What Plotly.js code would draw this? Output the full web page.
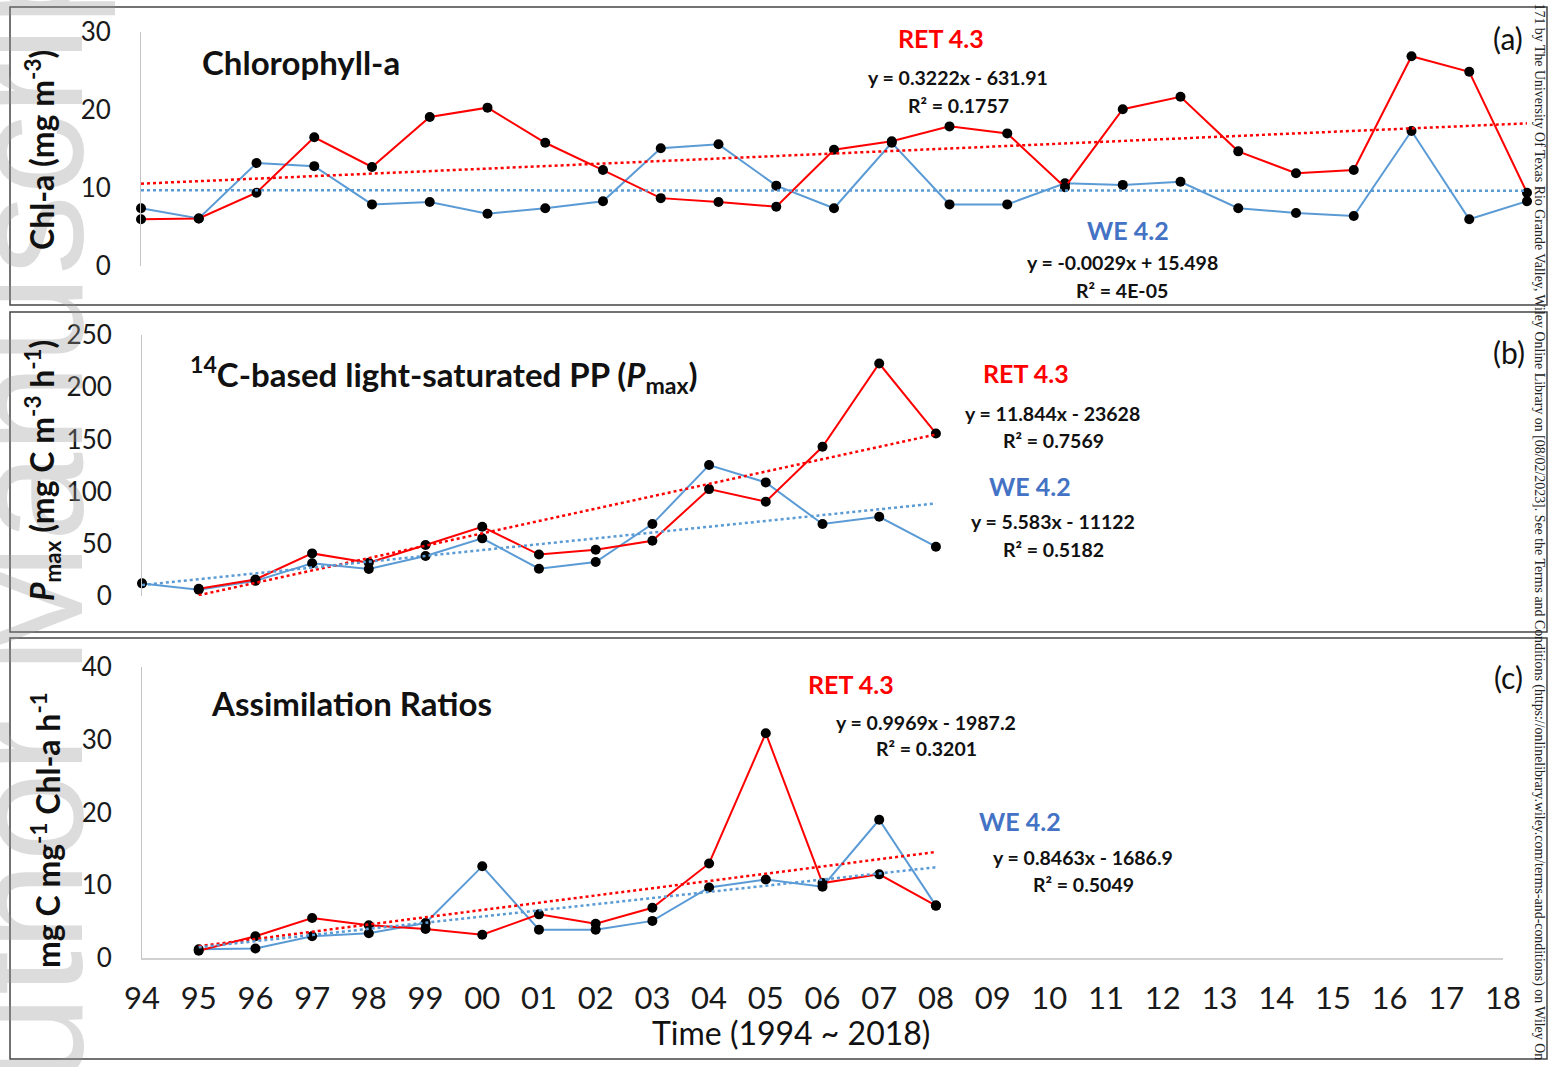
<!DOCTYPE html>
<html>
<head>
<meta charset="utf-8">
<script src="https://cdn.plot.ly/plotly-3.0.1.min.js"></script>
<style>
  html, body { margin: 0; padding: 0; background: #fff; }
  #chart { width: 1551px; height: 1067px; }
</style>
</head>
<body>
<div id="chart"></div>
<script>
const W = 1551, H = 1067;

// ---- data -------------------------------------------------------------
const yearsAll = [1994, 1995, 1996, 1997, 1998, 1999, 2000, 2001, 2002, 2003, 2004, 2005,
                  2006, 2007, 2008, 2009, 2010, 2011, 2012, 2013, 2014, 2015, 2016, 2017, 2018];
const yearTickText = ['94', '95', '96', '97', '98', '99', '00', '01', '02', '03', '04', '05',
                      '06', '07', '08', '09', '10', '11', '12', '13', '14', '15', '16', '17', '18'];

// (a) Chlorophyll-a, mg m-3
const chlRET = [6.0, 6.1, 9.4, 16.5, 12.7, 19.1, 20.3, 15.8, 12.3, 8.7, 8.2, 7.6, 14.9,
                16.0, 17.9, 17.0, 10.1, 20.1, 21.7, 14.7, 11.9, 12.3, 26.9, 24.9, 9.4];
const chlWE  = [7.4, 6.1, 13.2, 12.8, 7.9, 8.2, 6.7, 7.4, 8.3, 15.1, 15.6, 10.3, 7.4,
                15.8, 7.9, 7.9, 10.6, 10.4, 10.8, 7.4, 6.8, 6.4, 17.3, 6.0, 8.3];

// (b) 14C light-saturated PP, mg C m-3 h-1
const pmaxYearsWE  = [1994, 1995, 1996, 1997, 1998, 1999, 2000, 2001, 2002, 2003, 2004, 2005, 2006, 2007, 2008];
const pmaxWE       = [12.1, 6.0, 14.5, 31.3, 25.8, 38.3, 55.2, 26.1, 32.5, 68.9, 125.4, 108.8, 68.9, 75.9, 47.2];
const pmaxYearsRET = [1995, 1996, 1997, 1998, 1999, 2000, 2001, 2002, 2003, 2004, 2005, 2006, 2007, 2008];
const pmaxRET      = [7.0, 15.8, 40.8, 31.9, 48.8, 66.3, 39.7, 44.3, 52.9, 102.4, 90.3, 142.9, 222.7, 155.7];

// (c) Assimilation ratios, mg C mg-1 Chl-a h-1
const arYears = [1995, 1996, 1997, 1998, 1999, 2000, 2001, 2002, 2003, 2004, 2005, 2006, 2007, 2008];
const arRET   = [1.0, 3.0, 5.5, 4.5, 4.0, 3.2, 6.0, 4.7, 6.9, 13.0, 30.9, 10.3, 11.5, 7.2];
const arWE    = [1.2, 1.3, 3.0, 3.4, 4.8, 12.6, 3.9, 3.9, 5.1, 9.7, 10.8, 9.8, 19.0, 7.2];

// Linear fits reported with each panel: [slope, intercept]
const fitChlRET  = [0.3222, -631.91];
const fitChlWE   = [-0.0029, 15.498];
const fitPmaxRET = [11.844, -23628];
const fitPmaxWE  = [5.583, -11122];
const fitArRET   = [0.9969, -1987.2];
const fitArWE    = [0.8463, -1686.9];

// ---- styling ----------------------------------------------------------
const RED = '#FF0000';
const BLUE = '#5B9BD5';
const BLUE_LABEL = '#4472C4';
const FONT = 'Lato, "Open Sans", sans-serif';

const px = v => v / W;           // pixel -> paper x
const py = v => 1 - v / H;       // pixel -> paper y

function series(xs, ys, color, xa, ya) {
  return {
    type: 'scatter', mode: 'lines+markers', x: xs, y: ys, xaxis: xa, yaxis: ya,
    line: { color: color, width: 2 },
    marker: { color: '#000', size: 10 },
    cliponaxis: false, hoverinfo: 'skip'
  };
}
function trend(xs, fit, color, xa, ya) {
  const x0 = xs[0], x1 = xs[xs.length - 1];
  return {
    type: 'scatter', mode: 'lines', x: [x0, x1],
    y: [fit[0] * x0 + fit[1], fit[0] * x1 + fit[1]],
    xaxis: xa, yaxis: ya,
    line: { color: color, width: 2.5, dash: 'dot' },
    cliponaxis: false, hoverinfo: 'skip'
  };
}

const data = [
  series(yearsAll, chlWE, BLUE, 'x', 'y'),
  series(yearsAll, chlRET, RED, 'x', 'y'),
  trend(yearsAll, fitChlRET, RED, 'x', 'y'),
  trend(yearsAll, fitChlWE, BLUE, 'x', 'y'),

  series(pmaxYearsWE, pmaxWE, BLUE, 'x2', 'y2'),
  series(pmaxYearsRET, pmaxRET, RED, 'x2', 'y2'),
  trend(pmaxYearsRET, fitPmaxRET, RED, 'x2', 'y2'),
  trend(pmaxYearsWE, fitPmaxWE, BLUE, 'x2', 'y2'),

  series(arYears, arWE, BLUE, 'x3', 'y3'),
  series(arYears, arRET, RED, 'x3', 'y3'),
  trend(arYears, fitArRET, RED, 'x3', 'y3'),
  trend(arYears, fitArWE, BLUE, 'x3', 'y3')
];

function yAxis(domTopPx, domBotPx, range, dtick, anchor) {
  return {
    domain: [py(domBotPx), py(domTopPx)], range: range, anchor: anchor,
    showgrid: false, zeroline: false, showline: true, linecolor: '#c4c4c4', linewidth: 1,
    ticks: '', dtick: dtick, tick0: 0, ticklabelstandoff: 24,
    tickfont: { family: FONT, size: 26, color: '#1a1a1a' }, fixedrange: true
  };
}
function hiddenX(l, r, anchor) {
  return { domain: [px(l), px(r)], range: [1994, 2018], anchor: anchor, visible: false, fixedrange: true };
}

const annotations = [];
function note(text, x, y, opts) {
  annotations.push(Object.assign({
    text: text, xref: 'paper', yref: 'paper', x: px(x), y: py(y),
    xanchor: 'center', yanchor: 'middle', showarrow: false,
    font: { family: FONT, size: 19.5, color: '#111' }
  }, opts || {}));
}

// manuscript watermark along the left edge (drawn first, beneath the labels)
note('Author Manuscript', 26, 542,
     { textangle: -90, font: { family: '"Liberation Sans", Arial, sans-serif', size: 160, color: 'rgba(150,150,150,0.33)' } });

// panel titles
const titleFont = { family: FONT, size: 33, color: '#111' };
note('<b>Chlorophyll-a</b>', 200, 62, { xanchor: 'left', font: titleFont });
note('<b><sup>14</sup>C-based light-saturated PP (<i>P</i><sub>max</sub>)</b>', 188, 375,
     { xanchor: 'left', font: titleFont });
note('<b>Assimilation Ratios</b>', 209, 703, { xanchor: 'left', font: titleFont });

// y-axis titles
const yTitleFont = { family: FONT, size: 32, color: '#111' };
note('<b>Chl-a (mg m<sup>-3</sup>)</b>', 40, 150, { textangle: -90, font: yTitleFont });
note('<b><i>P</i><sub>max</sub> (mg C m<sup>-3</sup> h<sup>-1</sup>)</b>', 42, 471, { textangle: -90, font: yTitleFont });
note('<b>mg C mg<sup>-1</sup> Chl-a h<sup>-1</sup></b>', 46, 830, { textangle: -90, font: yTitleFont });

// x-axis title
note('Time (1994 ~ 2018)', 791, 1032, { font: { family: FONT, size: 32, color: '#111' } });

// panel letters
const letterFont = { family: FONT, size: 30, color: '#111' };
note('(a)', 1508, 38, { font: letterFont });
note('(b)', 1509, 352, { font: letterFont });
note('(c)', 1508, 677, { font: letterFont });

// fit labels
const siteFont = c => ({ family: FONT, size: 25, color: c });
note('<b>RET 4.3</b>', 941, 38, { font: siteFont(RED) });
note('<b>y = 0.3222x - 631.91</b>', 958, 78);
note('<b>R² = 0.1757</b>', 958, 105);
note('<b>WE 4.2</b>', 1128, 230, { font: siteFont(BLUE_LABEL) });
note('<b>y = -0.0029x + 15.498</b>', 1122, 262);
note('<b>R² = 4E-05</b>', 1122, 290);

note('<b>RET 4.3</b>', 1026, 373, { font: siteFont(RED) });
note('<b>y = 11.844x - 23628</b>', 1052, 413);
note('<b>R² = 0.7569</b>', 1053, 441);
note('<b>WE 4.2</b>', 1030, 486, { font: siteFont(BLUE_LABEL) });
note('<b>y = 5.583x - 11122</b>', 1053, 521);
note('<b>R² = 0.5182</b>', 1053, 549);

note('<b>RET 4.3</b>', 851, 684, { font: siteFont(RED) });
note('<b>y = 0.9969x - 1987.2</b>', 926, 722);
note('<b>R² = 0.3201</b>', 926, 748);
note('<b>WE 4.2</b>', 1020, 821, { font: siteFont(BLUE_LABEL) });
note('<b>y = 0.8463x - 1686.9</b>', 1083, 857);
note('<b>R² = 0.5049</b>', 1083, 884);

// download footer along the right edge
note('171 by The University Of Texas Rio Grande Valley, Wiley Online Library on [08/02/2023]. See the Terms and Conditions (https://onlinelibrary.wiley.com/terms-and-conditions) on Wiley On',
     1539, 1, { textangle: 90, yanchor: 'top', font: { family: '"Liberation Serif", "DejaVu Serif", serif', size: 13.9, color: '#222' } });

// panel frames
function frame(top, bottom) {
  return { type: 'rect', xref: 'paper', yref: 'paper', x0: px(10), x1: px(1547), y0: py(bottom), y1: py(top),
           line: { color: '#444', width: 1.5 }, fillcolor: 'rgba(0,0,0,0)', layer: 'above' };
}

const layout = {
  width: W, height: H,
  margin: { l: 0, r: 0, t: 0, b: 0, pad: 0 },
  paper_bgcolor: '#fff', plot_bgcolor: 'rgba(0,0,0,0)',
  showlegend: false, hovermode: false,
  font: { family: FONT, color: '#111' },

  xaxis: hiddenX(141, 1527, 'y'),
  yaxis: yAxis(32, 266, [0, 30], 10, 'x'),

  xaxis2: hiddenX(142, 1503, 'y2'),
  yaxis2: yAxis(335, 596, [0, 250], 50, 'x2'),

  xaxis3: {
    domain: [px(142), px(1503)], range: [1994, 2018], anchor: 'y3',
    showgrid: false, zeroline: false, showline: true, linecolor: '#d0d0d0', linewidth: 2,
    ticks: '', tickmode: 'array', tickvals: yearsAll, ticktext: yearTickText,
    ticklabelstandoff: 12, tickfont: { family: FONT, size: 31, color: '#1a1a1a' }, fixedrange: true
  },
  yaxis3: yAxis(667, 958, [0, 40], 10, 'x3'),

  shapes: [frame(7, 305), frame(312, 632), frame(638, 1059)],
  annotations: annotations
};

Plotly.newPlot('chart', data, layout, { staticPlot: true, displayModeBar: false });
</script>
</body>
</html>
